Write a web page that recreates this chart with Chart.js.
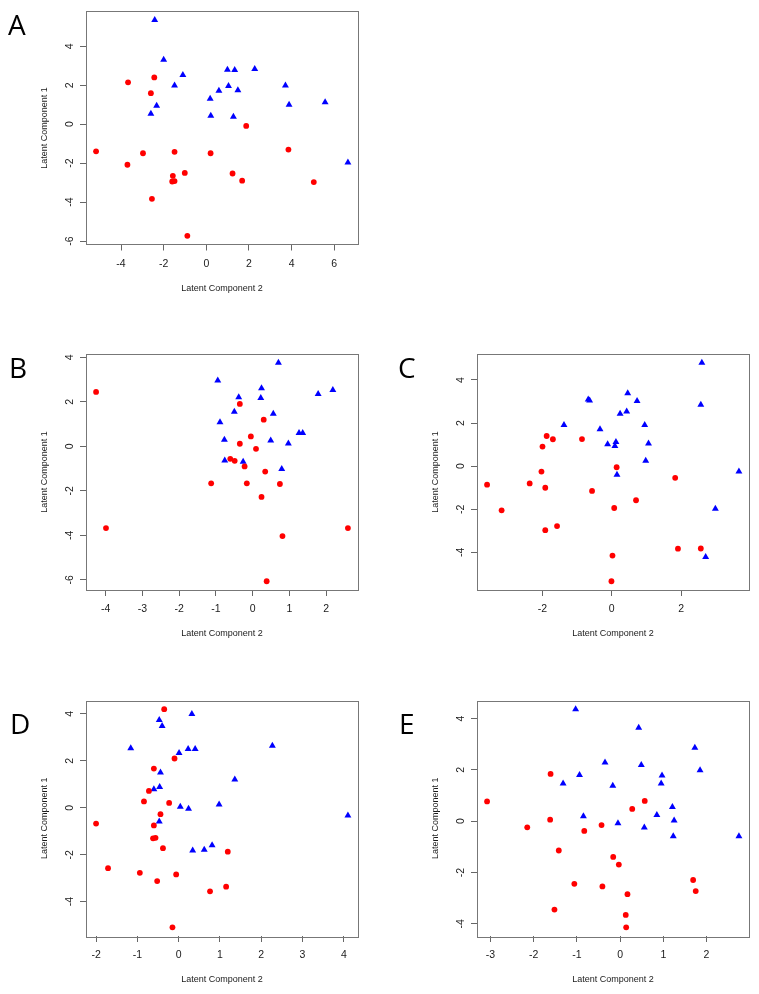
<!DOCTYPE html>
<html>
<head>
<meta charset="utf-8">
<script src="https://cdn.jsdelivr.net/npm/chart.js@4.4.1/dist/chart.umd.min.js"></script>
<style>
  body { margin: 0; background: #fff; }
  #page { position: relative; width: 759px; height: 994px; overflow: hidden; background: #fff; }
  canvas { position: absolute; }
</style>
</head>
<body>
<div id="page">
  <canvas id="cA"></canvas>
  <canvas id="cB"></canvas>
  <canvas id="cC"></canvas>
  <canvas id="cD"></canvas>
  <canvas id="cE"></canvas>
</div>
<script>
// values: [Latent Component 2, Latent Component 1]
const blueA = [[-2.42,5.35],[-2.00,3.31],[-1.10,2.53],[-1.49,1.99],[-2.33,0.95],[-2.60,0.53],
  [0.99,2.80],[1.33,2.78],[2.27,2.83],[1.04,1.96],[0.59,1.71],[1.48,1.74],[0.18,1.31],
  [0.21,0.43],[1.27,0.38],[3.71,1.99],[3.88,1.00],[5.57,1.12],[6.64,-1.96]];
const redA = [[-3.67,2.15],[-2.44,2.40],[-2.60,1.59],[1.87,-0.09],[-5.17,-1.39],[-2.97,-1.49],
  [-1.49,-1.42],[0.20,-1.49],[3.85,-1.30],[-3.70,-2.08],[-1.57,-2.65],[-1.60,-2.94],
  [-1.49,-2.92],[-1.01,-2.50],[1.23,-2.53],[1.68,-2.90],[5.04,-2.97],[-2.55,-3.83],[-0.89,-5.73]];

const blueB = [[0.70,3.76],[-0.95,2.96],[-0.38,2.21],[0.24,2.61],[0.22,2.17],[1.78,2.35],
  [2.18,2.54],[-0.50,1.56],[0.56,1.47],[-0.89,1.09],[-0.77,0.30],[0.49,0.27],[1.26,0.60],
  [1.36,0.60],[0.97,0.13],[-0.76,-0.63],[-0.26,-0.69],[0.79,-1.02]];
const redB = [[-4.26,2.45],[-0.35,1.91],[0.30,1.20],[-0.05,0.45],[-0.35,0.12],[0.09,-0.11],
  [-0.61,-0.56],[-0.49,-0.65],[-0.22,-0.90],[0.34,-1.13],[-1.13,-1.66],[-0.16,-1.66],
  [0.74,-1.69],[0.24,-2.27],[-3.99,-3.67],[2.59,-3.67],[0.81,-4.03],[0.38,-6.06]];

const blueC = [[2.60,4.80],[2.57,2.85],[0.46,3.38],[-0.68,3.10],[-0.64,3.05],[0.73,3.02],
  [0.24,2.43],[0.43,2.54],[-1.38,1.91],[0.95,1.91],[-0.34,1.71],[-0.12,1.02],[0.12,1.12],
  [0.09,0.94],[1.06,1.05],[0.98,0.25],[0.15,-0.40],[3.67,-0.25],[2.99,-1.98],[2.71,-4.22]];
const redC = [[-1.88,1.40],[-1.70,1.25],[-0.86,1.26],[-2.00,0.91],[-2.03,-0.25],[0.14,-0.05],
  [-3.60,-0.86],[-2.37,-0.80],[-1.92,-1.00],[-0.57,-1.15],[1.83,-0.54],[0.70,-1.58],
  [0.07,-1.94],[-3.18,-2.05],[-1.58,-2.78],[-1.92,-2.97],[1.91,-3.83],[2.57,-3.82],
  [0.02,-4.15],[-0.01,-5.34]];

const blueD = [[0.32,4.00],[-0.47,3.74],[-0.40,3.49],[-1.16,2.54],[0.01,2.34],[0.23,2.50],
  [0.40,2.51],[2.27,2.64],[-0.44,1.50],[1.36,1.21],[-0.60,0.79],[-0.46,0.89],[0.04,0.04],
  [0.24,-0.04],[0.98,0.14],[-0.47,-0.58],[4.10,-0.33],[0.34,-1.82],[0.62,-1.79],[0.81,-1.59]];
const redD = [[-0.35,4.20],[-0.10,2.10],[-0.60,1.67],[-0.72,0.72],[-0.84,0.27],[-0.23,0.21],
  [-0.44,-0.27],[-0.60,-0.75],[-2.00,-0.67],[-0.62,-1.30],[-0.56,-1.28],[-0.38,-1.72],
  [1.19,-1.87],[-1.71,-2.57],[-0.94,-2.77],[-0.06,-2.84],[-0.52,-3.12],[1.15,-3.36],
  [0.76,-3.56],[-0.15,-5.09]];

const blueE = [[-1.03,4.36],[0.43,3.64],[1.73,2.86],[-0.35,2.29],[0.49,2.19],[1.85,1.98],
  [-0.94,1.80],[0.97,1.78],[-1.32,1.47],[0.95,1.47],[-0.17,1.38],[1.21,0.55],[-0.85,0.19],
  [0.85,0.24],[1.25,0.03],[-0.05,-0.08],[0.56,-0.25],[1.23,-0.59],[2.75,-0.59]];
const redE = [[-1.61,1.84],[-3.08,0.77],[0.57,0.79],[0.28,0.48],[-1.62,0.06],[-2.15,-0.24],
  [-0.43,-0.15],[-0.83,-0.38],[-1.42,-1.14],[-0.16,-1.39],[-0.03,-1.69],[-1.06,-2.44],
  [-0.41,-2.54],[1.69,-2.29],[1.75,-2.72],[0.17,-2.84],[-1.52,-3.44],[0.13,-3.65],[0.14,-4.13]];

// tick labels
const xTicksA = [-4, -2, 0, 2, 4, 6];
const yTicksA = [-6, -4, -2, 0, 2, 4];
const xTicksB = [-4, -3, -2, -1, 0, 1, 2];
const yTicksB = [-6, -4, -2, 0, 2, 4];
const xTicksC = [-2, 0, 2];
const yTicksC = [-4, -2, 0, 2, 4];
const xTicksD = [-2, -1, 0, 1, 2, 3, 4];
const yTicksD = [-4, -2, 0, 2, 4];
const xTicksE = [-3, -2, -1, 0, 1, 2];
const yTicksE = [-4, -2, 0, 2, 4];

const xTitle = 'Latent Component 2';
const yTitle = 'Latent Component 1';

const FONT = '"Liberation Sans", Arial, sans-serif';
const Y_AXIS_W = 56;
const X_AXIS_H = 55;

// R style axis limits: data range plus 4% each side
function rRange(vals) {
  const lo = Math.min(...vals), hi = Math.max(...vals);
  const pad = (hi - lo) * 0.04;
  return [lo - pad, hi + pad];
}

const boxPlugin = {
  id: 'box',
  beforeDatasetsDraw(chart) {
    const a = chart.chartArea, ctx = chart.ctx;
    ctx.save();
    ctx.strokeStyle = '#777';
    ctx.lineWidth = 1;
    ctx.strokeRect(Math.round(a.left) + 0.5, Math.round(a.top) + 0.5,
      Math.round(a.right - a.left), Math.round(a.bottom - a.top));
    ctx.restore();
  },
  afterDraw(chart, args, opts) {
    const ctx = chart.ctx;
    ctx.save();
    ctx.fillStyle = '#000';
    ctx.font = '28px "Open Sans", "Liberation Sans", sans-serif';
    ctx.textBaseline = 'alphabetic';
    ctx.fillText(opts.letter, opts.lx, opts.ly);
    ctx.restore();
  }
};

function axis(ticks, range, title, horizontal) {
  return {
    type: 'linear',
    position: horizontal ? 'bottom' : 'left',
    min: range[0],
    max: range[1],
    afterBuildTicks: s => { s.ticks = ticks.map(v => ({ value: v })); },
    afterFit: s => { if (horizontal) s.height = X_AXIS_H; else s.width = Y_AXIS_W; },
    border: { display: false },
    grid: { drawOnChartArea: false, drawTicks: true, tickLength: 6, color: '#666', lineWidth: 1 },
    ticks: {
      autoSkip: false,
      color: '#1a1a1a',
      font: { family: FONT, size: 10.5 },
      padding: horizontal ? 7 : 5,
      minRotation: horizontal ? 0 : 90,
      maxRotation: horizontal ? 0 : 90,
      crossAlign: horizontal ? 'near' : 'center',
      callback: v => String(v)
    },
    title: {
      display: true,
      text: title,
      color: '#1a1a1a',
      font: { family: FONT, size: 9 },
      padding: horizontal ? { top: 0, bottom: 6 } : { top: 9, bottom: 0 }
    }
  };
}

function panel(id, ox, oy, w, h, frame, letter, lx, ly, blue, red, xTicks, yTicks) {
  const cv = document.getElementById(id);
  cv.width = w; cv.height = h;
  cv.style.left = ox + 'px';
  cv.style.top = oy + 'px';
  const [fl, ft, fr, fb] = frame;
  const xr = rRange(blue.concat(red).map(p => p[0]));
  const yr = rRange(blue.concat(red).map(p => p[1]));
  new Chart(cv.getContext('2d'), {
    type: 'scatter',
    data: {
      datasets: [
        {
          data: red.map(p => ({ x: p[0], y: p[1] })),
          pointStyle: 'circle', pointRadius: 2.9, pointHoverRadius: 2.9,
          backgroundColor: '#ff0000', borderWidth: 0, clip: false
        },
        {
          data: blue.map(p => ({ x: p[0], y: p[1] })),
          pointStyle: 'triangle', pointRadius: 4, pointHoverRadius: 4,
          backgroundColor: '#0000ff', borderWidth: 0, clip: false
        }
      ]
    },
    options: {
      responsive: false,
      animation: false,
      devicePixelRatio: 1,
      layout: {
        padding: {
          left: fl - ox - Y_AXIS_W,
          top: ft - oy,
          right: ox + w - fr,
          bottom: oy + h - fb - X_AXIS_H
        }
      },
      plugins: {
        legend: { display: false },
        tooltip: { enabled: false },
        box: { letter: letter, lx: lx, ly: ly }
      },
      scales: {
        x: axis(xTicks, xr, xTitle, true),
        y: axis(yTicks, yr, yTitle, false)
      }
    },
    plugins: [boxPlugin]
  });
}

panel('cA', 0, 0, 380, 320, [86, 9, 358, 244.5], 'A', 8, 35, blueA, redA, xTicksA, yTicksA);
panel('cB', 0, 330, 380, 330, [86, 354, 358, 590], 'B', 9, 48, blueB, redB, xTicksB, yTicksB);
panel('cC', 380, 330, 379, 330, [477, 354, 749, 590], 'C', 18, 48, blueC, redC, xTicksC, yTicksC);
panel('cD', 0, 660, 380, 334, [86, 700.5, 358, 936], 'D', 10, 74, blueD, redD, xTicksD, yTicksD);
panel('cE', 380, 660, 379, 334, [477, 700.5, 749, 936], 'E', 19, 74, blueE, redE, xTicksE, yTicksE);
</script>
</body>
</html>
